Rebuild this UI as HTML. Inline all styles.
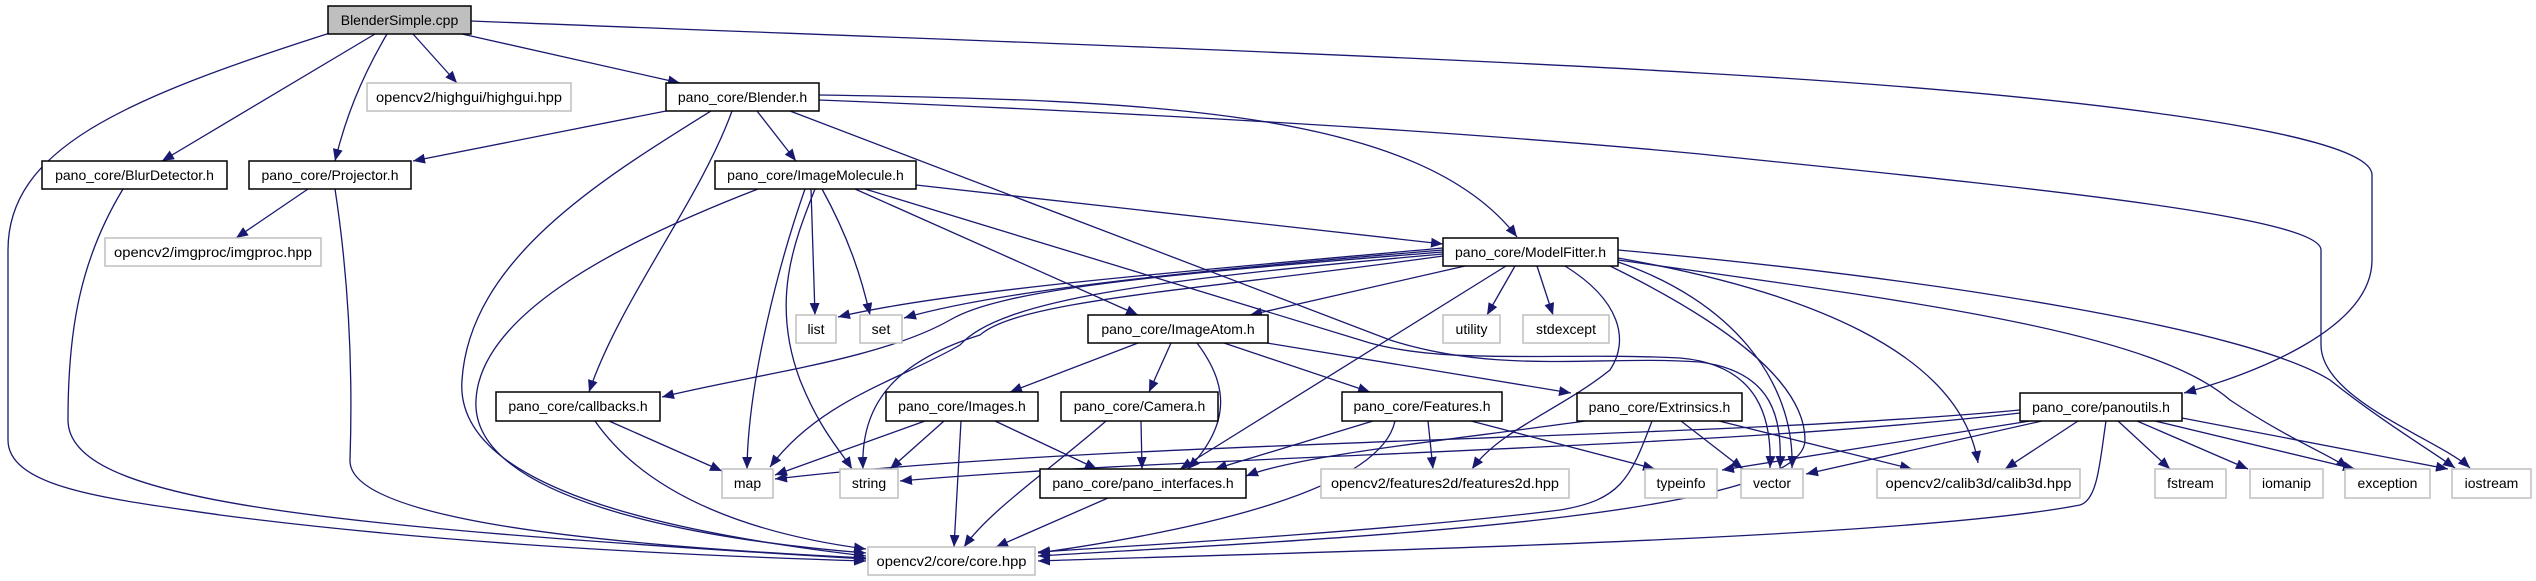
<!DOCTYPE html>
<html><head><meta charset="utf-8"><style>
html,body{margin:0;padding:0;background:#fff;}
svg{display:block;}
text{font-family:"Liberation Sans","DejaVu Sans",sans-serif;font-size:14px;fill:#000;}
.e{fill:none;stroke:#191970;stroke-width:1.3;marker-end:url(#a);}
.n{fill:#fff;stroke:#000;stroke-width:1.5;}
.g{fill:#fff;stroke:#bfbfbf;stroke-width:1.5;}
</style></head><body>
<svg width="2536" height="581" viewBox="0 0 2536 581" xmlns="http://www.w3.org/2000/svg">
<defs><marker id="a" markerUnits="userSpaceOnUse" markerWidth="14" markerHeight="10" refX="12" refY="5" orient="auto"><path d="M0,0 L12,5 L0,10 z" fill="#191970"/></marker></defs>

<!-- edges from BlenderSimple -->
<path class="e" d="M330,33 C120,100 8,150 8,250 L8,440 C8,490 120,500 220,515 C450,545 700,556 866,561"/>
<path class="e" d="M375,34 L162,161"/>
<path class="e" d="M387,34 C360,80 345,120 335,161"/>
<path class="e" d="M413,34 L457,83"/>
<path class="e" d="M462,34 L680,83"/>
<path class="e" d="M471,21 C900,38 1400,55 1700,73 C2050,93 2372,130 2372,175 L2372,260 C2372,330 2250,375 2184,393"/>

<!-- Blender.h -->
<path class="e" d="M666,111 L413,161"/>
<path class="e" d="M711,111 C600,180 470,260 462,380 C455,470 600,525 866,556"/>
<path class="e" d="M732,111 C700,200 620,300 589,392"/>
<path class="e" d="M757,111 L796,161"/>
<path class="e" d="M819,95 C1150,100 1420,110 1517,237"/>
<path class="e" d="M790,111 L1390,340 C1500,375 1600,355 1700,362 C1775,372 1782,420 1780,468"/>
<path class="e" d="M819,100 C1200,115 1500,135 1700,154 C2000,185 2321,215 2321,250 L2321,345 C2321,400 2440,440 2470,468"/>

<!-- BlurDetector, Projector -->
<path class="e" d="M123,189 C80,260 68,330 68,420 C68,500 300,525 866,559"/>
<path class="e" d="M308,189 L236,238"/>
<path class="e" d="M335,189 C352,300 352,400 350,460 C348,520 600,545 866,558"/>

<!-- ImageMolecule -->
<path class="e" d="M758,189 C600,250 480,320 476,400 C470,500 700,540 866,553"/>
<path class="e" d="M805,189 C780,260 748,380 747,469"/>
<path class="e" d="M811,189 L815,315"/>
<path class="e" d="M815,189 C795,240 770,300 800,380 C820,430 840,450 852,469"/>
<path class="e" d="M822,189 C850,240 862,280 870,315"/>
<path class="e" d="M855,189 L1138,315"/>
<path class="e" d="M865,189 L1370,343 C1450,365 1560,352 1680,358 C1760,365 1772,420 1770,468"/>
<path class="e" d="M916,185 L1443,244"/>

<!-- ModelFitter -->
<path class="e" d="M1443,248 C1200,270 950,290 838,317"/>
<path class="e" d="M1443,250 C1200,270 1000,290 904,318"/>
<path class="e" d="M1443,252 C1150,275 1000,290 950,320 C880,360 750,375 662,397"/>
<path class="e" d="M1443,254 C1150,280 1000,300 960,345 C900,380 820,400 770,467"/>
<path class="e" d="M1443,256 C1200,290 1020,300 980,335 C900,360 860,400 863,469"/>
<path class="e" d="M1465,266 L1250,315"/>
<path class="e" d="M1506,266 L1180,469"/>
<path class="e" d="M1515,266 L1487,315"/>
<path class="e" d="M1537,266 L1553,315"/>
<path class="e" d="M1565,266 C1620,300 1630,340 1610,370 C1560,410 1500,430 1472,469"/>
<path class="e" d="M1618,262 C1730,300 1795,380 1792,468"/>
<path class="e" d="M1610,266 C1720,320 1805,380 1805,440 C1805,520 1300,540 1038,556"/>
<path class="e" d="M1618,258 C1800,290 1960,350 1978,463"/>
<path class="e" d="M1618,260 C1900,300 2150,330 2230,400 C2290,440 2330,455 2348,468"/>
<path class="e" d="M1618,250 C1950,280 2250,330 2330,380 C2380,420 2430,450 2455,468"/>

<!-- ImageAtom -->
<path class="e" d="M1138,343 L1010,392"/>
<path class="e" d="M1171,343 L1149,392"/>
<path class="e" d="M1197,343 C1225,380 1235,420 1188,469"/>
<path class="e" d="M1224,343 L1370,392"/>
<path class="e" d="M1267,343 L1571,393"/>

<!-- callbacks -->
<path class="e" d="M609,421 L722,471"/>
<path class="e" d="M595,421 C650,500 760,535 866,549"/>

<!-- Images -->
<path class="e" d="M925,421 L775,475"/>
<path class="e" d="M944,421 L890,469"/>
<path class="e" d="M961,421 L954,547"/>
<path class="e" d="M995,421 L1097,469"/>

<!-- Camera -->
<path class="e" d="M1106,421 C1050,470 990,510 964,547"/>
<path class="e" d="M1141,421 L1142,469"/>

<!-- Features -->
<path class="e" d="M1373,421 L1215,469"/>
<path class="e" d="M1395,421 C1380,490 1200,530 1038,553"/>
<path class="e" d="M1428,421 L1433,469"/>
<path class="e" d="M1471,421 L1655,469"/>

<!-- Extrinsics -->
<path class="e" d="M1585,421 C1450,440 1300,455 1246,476"/>
<path class="e" d="M1652,421 C1630,480 1620,500 1560,510 C1400,530 1150,545 1038,552"/>
<path class="e" d="M1681,421 L1743,469"/>
<path class="e" d="M1719,421 L1912,469"/>

<!-- panoutils -->
<path class="e" d="M2020,410 C1700,440 1100,440 775,479"/>
<path class="e" d="M2020,413 C1700,450 1200,455 900,481"/>
<path class="e" d="M2030,421 L1722,470"/>
<path class="e" d="M2042,421 L1806,474"/>
<path class="e" d="M2078,421 L2005,469"/>
<path class="e" d="M2106,421 C2100,460 2098,500 2080,505 C1900,540 1300,552 1038,561"/>
<path class="e" d="M2118,421 L2170,469"/>
<path class="e" d="M2137,421 L2248,469"/>
<path class="e" d="M2155,421 L2355,469"/>
<path class="e" d="M2182,418 L2448,469"/>

<!-- pano_interfaces -->
<path class="e" d="M1108,498 L996,547"/>

<!-- nodes -->
<rect x="328" y="6" width="143" height="28" fill="#bfbfbf" stroke="#000" stroke-width="1.5"/>
<text x="399.5" y="25" text-anchor="middle">BlenderSimple.cpp</text>

<rect class="g" x="367" y="83" width="204" height="28"/><text x="469" y="102" text-anchor="middle" textLength="186" lengthAdjust="spacingAndGlyphs">opencv2/highgui/highgui.hpp</text>
<rect class="n" x="666" y="83" width="153" height="28"/><text x="742.5" y="102" text-anchor="middle">pano_core/Blender.h</text>
<rect class="n" x="42" y="161" width="185" height="28"/><text x="134.5" y="180" text-anchor="middle">pano_core/BlurDetector.h</text>
<rect class="n" x="249" y="161" width="162" height="28"/><text x="330" y="180" text-anchor="middle">pano_core/Projector.h</text>
<rect class="g" x="105" y="238" width="216" height="28"/><text x="213" y="257" text-anchor="middle" textLength="198" lengthAdjust="spacingAndGlyphs">opencv2/imgproc/imgproc.hpp</text>
<rect class="n" x="715" y="161" width="201" height="28"/><text x="815.5" y="180" text-anchor="middle">pano_core/ImageMolecule.h</text>
<rect class="n" x="1443" y="238" width="175" height="28"/><text x="1530.5" y="257" text-anchor="middle">pano_core/ModelFitter.h</text>

<rect class="g" x="796" y="315" width="40" height="28"/><text x="816" y="334" text-anchor="middle">list</text>
<rect class="g" x="860" y="315" width="42" height="28"/><text x="881" y="334" text-anchor="middle">set</text>
<rect class="n" x="1088" y="315" width="180" height="28"/><text x="1178" y="334" text-anchor="middle">pano_core/ImageAtom.h</text>
<rect class="g" x="1443" y="315" width="57" height="28"/><text x="1471.5" y="334" text-anchor="middle">utility</text>
<rect class="g" x="1523" y="315" width="86" height="28"/><text x="1566" y="334" text-anchor="middle">stdexcept</text>

<rect class="n" x="496" y="392" width="164" height="29"/><text x="578" y="411" text-anchor="middle">pano_core/callbacks.h</text>
<rect class="n" x="886" y="392" width="152" height="29"/><text x="962" y="411" text-anchor="middle">pano_core/Images.h</text>
<rect class="n" x="1061" y="392" width="157" height="29"/><text x="1139.5" y="411" text-anchor="middle">pano_core/Camera.h</text>
<rect class="n" x="1342" y="392" width="160" height="29"/><text x="1422" y="411" text-anchor="middle">pano_core/Features.h</text>
<rect class="n" x="1577" y="393" width="165" height="28"/><text x="1659.5" y="412" text-anchor="middle">pano_core/Extrinsics.h</text>
<rect class="n" x="2020" y="393" width="162" height="28"/><text x="2101" y="412" text-anchor="middle">pano_core/panoutils.h</text>

<rect class="g" x="722" y="469" width="51" height="29"/><text x="747.5" y="488" text-anchor="middle">map</text>
<rect class="g" x="840" y="469" width="58" height="29"/><text x="869" y="488" text-anchor="middle">string</text>
<rect class="n" x="1040" y="469" width="206" height="29"/><text x="1143" y="488" text-anchor="middle">pano_core/pano_interfaces.h</text>
<rect class="g" x="1321" y="469" width="248" height="29"/><text x="1445" y="488" text-anchor="middle" textLength="228" lengthAdjust="spacingAndGlyphs">opencv2/features2d/features2d.hpp</text>
<rect class="g" x="1645" y="469" width="72" height="29"/><text x="1681" y="488" text-anchor="middle">typeinfo</text>
<rect class="g" x="1741" y="469" width="62" height="29"/><text x="1772" y="488" text-anchor="middle">vector</text>
<rect class="g" x="1877" y="469" width="203" height="29"/><text x="1978.5" y="488" text-anchor="middle" textLength="186" lengthAdjust="spacingAndGlyphs">opencv2/calib3d/calib3d.hpp</text>
<rect class="g" x="2155" y="469" width="71" height="29"/><text x="2190.5" y="488" text-anchor="middle">fstream</text>
<rect class="g" x="2250" y="469" width="73" height="29"/><text x="2286.5" y="488" text-anchor="middle">iomanip</text>
<rect class="g" x="2345" y="469" width="85" height="29"/><text x="2387.5" y="488" text-anchor="middle">exception</text>
<rect class="g" x="2452" y="469" width="79" height="29"/><text x="2491.5" y="488" text-anchor="middle">iostream</text>

<rect class="g" x="868" y="547" width="167" height="28"/><text x="951.5" y="566" text-anchor="middle" textLength="150" lengthAdjust="spacingAndGlyphs">opencv2/core/core.hpp</text>
</svg>
</body></html>
